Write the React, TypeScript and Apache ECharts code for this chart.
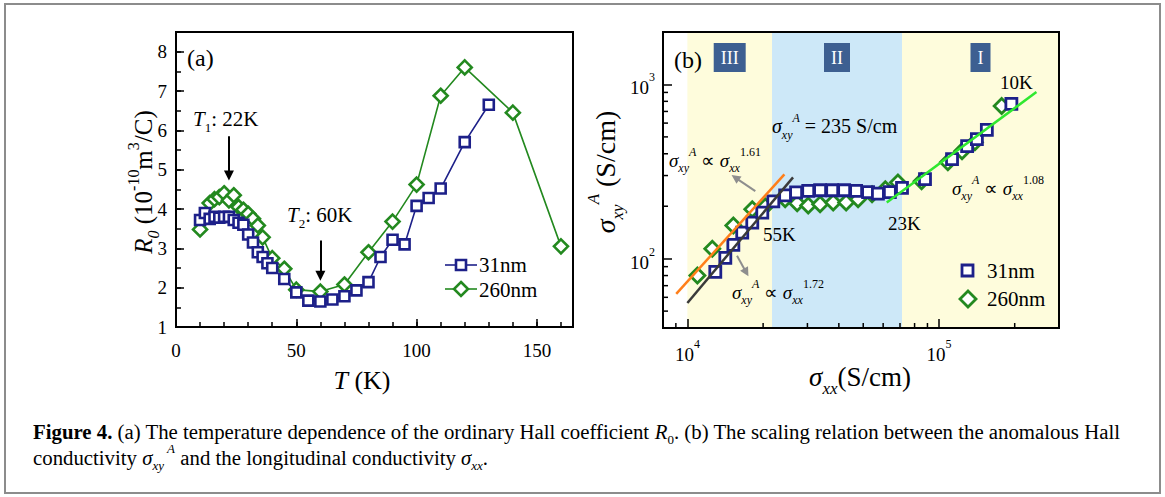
import React, { useEffect, useRef } from 'react';
import * as echarts from 'echarts';

const FONT = 'Liberation Serif, Times New Roman, serif';
const BLUE = '#1d2089';
const GREEN = '#23891f';
const LIME = '#30e830';
const ORANGE = '#ff7f1a';
const DARK = '#3a3a3a';
const ARROW_GRAY = '#8e8e8e';
const REGION_BOX = '#3d5f91';

// ---------- Panel (a): T (K) vs R0 (1e-10 m^3/C) ----------
const tempA31 = [10, 12, 14, 16, 18, 20, 22, 24, 26, 28, 30, 32, 34, 36, 38, 40, 45, 50, 55, 60, 65, 70, 75, 80, 85, 90, 95, 100, 105, 110, 120, 130];
const r0A31 = [3.72, 3.9, 3.75, 3.8, 3.78, 3.8, 3.8, 3.72, 3.65, 3.6, 3.35, 3.15, 2.9, 2.78, 2.62, 2.5, 2.22, 1.88, 1.67, 1.65, 1.7, 1.78, 1.93, 2.14, 2.78, 3.22, 3.1, 4.08, 4.28, 4.52, 5.7, 6.65];
const tempA260 = [10, 14, 16, 18, 20, 22, 24, 26, 28, 30, 32, 34, 36, 40, 45, 50, 60, 70, 80, 90, 100, 110, 120, 140, 160];
const r0A260 = [3.48, 4.15, 4.25, 4.3, 4.4, 4.22, 4.35, 4.05, 3.98, 3.88, 3.75, 3.58, 3.28, 2.75, 2.48, 1.95, 1.9, 2.08, 2.9, 3.68, 4.62, 6.88, 7.6, 6.45, 3.05];
const xRangeA = [0, 165];
const yRangeA = [1, 8.5];
// arrows: [T, from R0, to R0]
const arrowT1 = [22, 5.85, 4.85];
const arrowT2 = [60, 3.2, 2.3];

// ---------- Panel (b): sigma_xx vs sigma_xy^A (S/cm) ----------
const sxx31 = [12910, 14150, 15230, 16520, 18110, 19850, 21950, 24470, 27050, 30220, 33690, 37640, 41990, 46850, 52270, 57200, 63800, 71300, 88000, 112700, 129400, 141500, 155000, 194000];
const sxy31 = [84, 101, 120, 141, 161, 184, 213, 231, 240, 245, 247, 247, 247, 245, 241, 236, 241, 255, 286, 373, 442, 485, 548, 773];
const sxx260 = [10960, 12560, 15230, 18110, 20400, 24470, 27320, 30220, 33690, 37980, 42760, 47700, 54200, 61200, 68700, 85300, 108500, 123500, 138900, 177500];
const sxy260 = [80, 114, 155, 192, 199, 219, 208, 202, 205, 210, 210, 219, 234, 250, 274, 278, 358, 414, 466, 752];
const fitIIIorange = [[9030, 62.8], [24300, 305]];
const fitIIIdark = [[10000, 55.7], [26300, 293]];
const fitI = [[62000, 210], [244000, 904]];
const regionNames = ['III', 'II', 'I'];
const regionEdges = [10000, 21700, 71300, 300000];
const regionColors = ['#fefcdc', '#cde8f8', '#fefcdc'];
const xRangeB = [8000, 300000];
const yRangeB = [40, 2000];
const xMinorB = [9000, 20000, 30000, 40000, 50000, 60000, 70000, 80000, 90000, 200000];
const yMinorB = [50, 60, 70, 80, 90, 200, 300, 400, 500, 600, 700, 800, 900];
const arrowUp = [[18620, 244], [15500, 292]];
const arrowDown = [[15750, 104], [17140, 83.4]];

const rich = (size: number) => {
  const base = { fontFamily: FONT, fill: '#000', color: '#000' };
  const small = Math.round(size * 0.62);
  return {
    n: { ...base, fontSize: size, lineHeight: Math.round(size * 1.45) },
    i: { ...base, fontSize: size, fontStyle: 'italic', lineHeight: Math.round(size * 1.45) },
    b: { ...base, fontSize: size, fontWeight: 'bold', lineHeight: Math.round(size * 1.45) },
    sub: { ...base, fontSize: small, fontStyle: 'italic', lineHeight: Math.round(small * 1.15), verticalAlign: 'bottom' },
    subn: { ...base, fontSize: small, lineHeight: Math.round(small * 1.15), verticalAlign: 'bottom' },
    sup: { ...base, fontSize: small, lineHeight: Math.round(small * 1.15), verticalAlign: 'top' },
    supi: { ...base, fontSize: small, fontStyle: 'italic', lineHeight: Math.round(small * 1.15), verticalAlign: 'top' },
  };
};

const txt = (x: number, y: number, text: string, size: number, extra: any = {}) => ({
  type: 'text',
  x,
  y,
  z: 20,
  ...extra,
  style: { text, rich: rich(size), align: extra.align || 'left', verticalAlign: 'middle', fontFamily: FONT, fontSize: size, fill: '#000' },
});

const axisLineStyle = { color: '#000', width: 2 };
const tickStyle = { color: '#000', width: 1.5 };

const powLabel = (v: number) => {
  const e = Math.log10(v);
  if (Math.abs(e - Math.round(e)) < 1e-6) return `{b|10}{p|${Math.round(e)}}`;
  return '';
};
const powRich = {
  b: { fontFamily: FONT, fontSize: 19, color: '#000', lineHeight: 26, verticalAlign: 'bottom' },
  p: { fontFamily: FONT, fontSize: 12, color: '#000', lineHeight: 14, verticalAlign: 'top' },
};

const minorTickRender = (vertical: boolean) => (params: any, api: any) => {
  const p = api.coord([api.value(0), api.value(1)]);
  return vertical
    ? { type: 'line', shape: { x1: p[0], y1: p[1], x2: p[0], y2: p[1] - 5 }, style: { stroke: '#000', lineWidth: 1.5 } }
    : { type: 'line', shape: { x1: p[0], y1: p[1], x2: p[0] + 5, y2: p[1] }, style: { stroke: '#000', lineWidth: 1.5 } };
};

const axisLabelA = { fontFamily: FONT, fontSize: 19, color: '#000' };

const buildOption = () => ({
  animation: false,
  backgroundColor: '#fff',
  textStyle: { fontFamily: FONT },
  grid: [
    { left: 176, top: 32, width: 397, height: 295, show: true, z: 10, borderColor: '#000', borderWidth: 2, backgroundColor: 'transparent' },
    { left: 663, top: 32, width: 396, height: 296, show: true, z: 10, borderColor: '#000', borderWidth: 2, backgroundColor: 'transparent' },
  ],
  xAxis: [
    {
      gridIndex: 0, type: 'value', min: xRangeA[0], max: xRangeA[1], interval: 50, position: 'bottom', z: 10,
      axisLine: { lineStyle: axisLineStyle }, axisTick: { inside: true, length: 8, lineStyle: tickStyle },
      axisLabel: { ...axisLabelA, margin: 14, formatter: (v: number) => (v % 50 === 0 ? String(v) : '') },
      splitLine: { show: false },
    },
    {
      gridIndex: 0, type: 'value', min: xRangeA[0], max: xRangeA[1], interval: 10, position: 'bottom', z: 10,
      axisLine: { show: false }, axisTick: { inside: true, length: 5, lineStyle: tickStyle },
      axisLabel: { show: false }, splitLine: { show: false },
    },
    {
      gridIndex: 1, type: 'log', logBase: 10, min: xRangeB[0], max: xRangeB[1], position: 'bottom', z: 10,
      axisLine: { lineStyle: axisLineStyle }, axisTick: { inside: true, length: 9, lineStyle: tickStyle },
      axisLabel: { margin: 10, formatter: powLabel, rich: powRich },
      splitLine: { show: false }, minorTick: { show: false },
    },
  ],
  yAxis: [
    {
      gridIndex: 0, type: 'value', min: yRangeA[0], max: yRangeA[1], interval: 1, position: 'left', z: 10,
      axisLine: { lineStyle: axisLineStyle }, axisTick: { inside: true, length: 8, lineStyle: tickStyle },
      axisLabel: { ...axisLabelA, margin: 9, formatter: (v: number) => (Number.isInteger(v) ? String(v) : '') },
      splitLine: { show: false },
    },
    {
      gridIndex: 0, type: 'value', min: yRangeA[0], max: yRangeA[1], interval: 0.5, position: 'left', z: 10,
      axisLine: { show: false }, axisTick: { inside: true, length: 5, lineStyle: tickStyle },
      axisLabel: { show: false }, splitLine: { show: false },
    },
    {
      gridIndex: 1, type: 'log', logBase: 10, min: yRangeB[0], max: yRangeB[1], position: 'left', z: 10,
      axisLine: { lineStyle: axisLineStyle }, axisTick: { inside: true, length: 9, lineStyle: tickStyle },
      axisLabel: { margin: 8, formatter: powLabel, rich: powRich },
      splitLine: { show: false },
    },
  ],
  series: [
    // ---- panel (a)
    {
      name: '260nm', type: 'line', xAxisIndex: 0, yAxisIndex: 0,
      data: tempA260.map((t, i) => [t, r0A260[i]]),
      symbol: 'diamond', symbolSize: 14, showAllSymbol: true,
      itemStyle: { color: '#fff', borderColor: GREEN, borderWidth: 2.6 },
      lineStyle: { color: GREEN, width: 1.6 },
      markLine: {
        silent: true, symbol: ['none', 'triangle'], symbolSize: 10, label: { show: false },
        lineStyle: { color: '#000', width: 2, type: 'solid' },
        emphasis: { disabled: true },
        data: [
          [{ coord: [arrowT1[0], arrowT1[1]] }, { coord: [arrowT1[0], arrowT1[2]] }],
          [{ coord: [arrowT2[0], arrowT2[1]] }, { coord: [arrowT2[0], arrowT2[2]] }],
        ],
      },
    },
    {
      name: '31nm', type: 'line', xAxisIndex: 0, yAxisIndex: 0,
      data: tempA31.map((t, i) => [t, r0A31[i]]),
      symbol: 'rect', symbolSize: 10, showAllSymbol: true,
      itemStyle: { color: '#fff', borderColor: BLUE, borderWidth: 2.6 },
      lineStyle: { color: BLUE, width: 1.6 },
    },
    // ---- panel (b)
    {
      name: 'b260nm', type: 'scatter', xAxisIndex: 2, yAxisIndex: 2,
      data: sxx260.map((x, i) => [x, sxy260[i]]),
      symbol: 'diamond', symbolSize: 15,
      itemStyle: { color: '#fff', borderColor: GREEN, borderWidth: 2.8, opacity: 1 },
      markArea: {
        silent: true,
        data: regionNames.map((name, i) => [
          {
            name, xAxis: regionEdges[i], itemStyle: { color: regionColors[i] },
            label: {
              show: true, position: 'insideTop', distance: 11, color: '#fff', backgroundColor: REGION_BOX,
              padding: [6, 7, 5, 7], fontFamily: FONT, fontSize: 18,
            },
          },
          { xAxis: regionEdges[i + 1] },
        ]),
      },
    },
    {
      name: 'b31nm', type: 'scatter', xAxisIndex: 2, yAxisIndex: 2,
      data: sxx31.map((x, i) => [x, sxy31[i]]),
      symbol: 'rect', symbolSize: 11,
      itemStyle: { color: '#fff', borderColor: BLUE, borderWidth: 2.8, opacity: 1 },
      markLine: {
        silent: true, symbol: ['none', 'triangle'], symbolSize: 9, label: { show: false },
        lineStyle: { color: ARROW_GRAY, width: 2, type: 'solid' },
        emphasis: { disabled: true },
        data: [
          [{ coord: arrowUp[0] }, { coord: arrowUp[1] }],
          [{ coord: arrowDown[0] }, { coord: arrowDown[1] }],
        ],
      },
    },
    {
      type: 'line', xAxisIndex: 2, yAxisIndex: 2, data: fitIIIorange, showSymbol: false, symbol: 'none', z: 4,
      lineStyle: { color: ORANGE, width: 2.5 },
    },
    {
      type: 'line', xAxisIndex: 2, yAxisIndex: 2, data: fitIIIdark, showSymbol: false, symbol: 'none', z: 4,
      lineStyle: { color: DARK, width: 2.5 },
    },
    {
      type: 'line', xAxisIndex: 2, yAxisIndex: 2, data: fitI, showSymbol: false, symbol: 'none', z: 4,
      lineStyle: { color: LIME, width: 2.5 },
    },
    {
      type: 'custom', xAxisIndex: 2, yAxisIndex: 2, silent: true, clip: false, z: 12,
      data: xMinorB.map((v) => [v, yRangeB[0]]),
      renderItem: minorTickRender(true),
    },
    {
      type: 'custom', xAxisIndex: 2, yAxisIndex: 2, silent: true, clip: false, z: 12,
      data: yMinorB.map((v) => [xRangeB[0], v]),
      renderItem: minorTickRender(false),
    },
  ],
  graphic: [
    { type: 'rect', z: 0, shape: { x: 5, y: 4, width: 1155, height: 489 }, style: { fill: 'none', stroke: '#8c8c8c', lineWidth: 2 } },
    // panel (a) texts
    txt(187, 58, '{n|(a)}', 24),
    txt(193, 119, '{i|T}{subn|1}{n|: 22K}', 21),
    txt(287, 215, '{i|T}{subn|2}{n|: 60K}', 21),
    txt(143, 182, '{i|R}{sub|0}{n| (10}{sup|-10}{n|m}{sup|3}{n|/C)}', 25, { rotation: Math.PI / 2, align: 'center' }),
    txt(362, 380, '{i|T}{n| (K)}', 26, { align: 'center' }),
    // legend (a)
    { type: 'line', z: 20, shape: { x1: 445, y1: 265, x2: 477, y2: 265 }, style: { stroke: BLUE, lineWidth: 1.6 } },
    { type: 'rect', z: 21, shape: { x: 456, y: 260, width: 10, height: 10 }, style: { fill: '#fff', stroke: BLUE, lineWidth: 2.6 } },
    { type: 'line', z: 20, shape: { x1: 445, y1: 289, x2: 477, y2: 289 }, style: { stroke: GREEN, lineWidth: 1.6 } },
    { type: 'polygon', z: 21, shape: { points: [[461, 282], [468, 289], [461, 296], [454, 289]] }, style: { fill: '#fff', stroke: GREEN, lineWidth: 2.6 } },
    txt(479, 265, '{n|31nm}', 21),
    txt(479, 290, '{n|260nm}', 21),
    // panel (b) texts
    txt(674, 60, '{n|(b)}', 24),
    txt(669, 160, '{i|σ}{sub|xy}{supi|A}{n| ∝ }{i|σ}{sub|xx}{sup|1.61}', 19),
    txt(772, 126, '{i|σ}{sub|xy}{supi|A}{n| = 235 S/cm}', 20),
    txt(763, 234, '{n|55K}', 19),
    txt(732, 292, '{i|σ}{sub|xy}{supi|A}{n| ∝ }{i|σ}{sub|xx}{sup|1.72}', 19),
    txt(888, 223, '{n|23K}', 19),
    txt(1000, 82, '{n|10K}', 19),
    txt(952, 188, '{i|σ}{sub|xy}{supi|A}{n| ∝ }{i|σ}{sub|xx}{sup|1.08}', 19),
    txt(605, 172, '{i|σ}{sub|xy}{supi|A}{n| (S/cm)}', 28, { rotation: Math.PI / 2, align: 'center' }),
    txt(860, 377, '{i|σ}{sub|xx}{n|(S/cm)}', 27, { align: 'center' }),
    // legend (b)
    { type: 'rect', z: 21, shape: { x: 962, y: 265, width: 11, height: 11 }, style: { fill: '#fff', stroke: BLUE, lineWidth: 2.8 } },
    { type: 'polygon', z: 21, shape: { points: [[968, 291], [976, 299], [968, 307], [960, 299]] }, style: { fill: '#fff', stroke: GREEN, lineWidth: 2.8 } },
    txt(987, 271, '{n|31nm}', 21),
    txt(987, 299, '{n|260nm}', 21),
    // caption
    txt(33, 431, '{b|Figure 4.}{n| (a) The temperature dependence of the ordinary Hall coefficient }{i|R}{subn|0}{n|. (b) The scaling relation between the anomalous Hall}', 20.8),
    txt(33, 457, '{n|conductivity }{i|σ}{sub|xy}{supi| A}{n| and the longitudinal conductivity }{i|σ}{sub|xx}{n|.}', 20.8),
  ],
});

export default function App() {
  const ref = useRef<HTMLDivElement>(null);
  useEffect(() => {
    if (!ref.current) return;
    const chart = echarts.init(ref.current, null, { renderer: 'svg' });
    chart.setOption(buildOption() as any);
    return () => chart.dispose();
  }, []);
  return <div ref={ref} style={{ position: 'absolute', left: 0, top: 0, width: 1165, height: 497, background: '#fff' }} />;
}
